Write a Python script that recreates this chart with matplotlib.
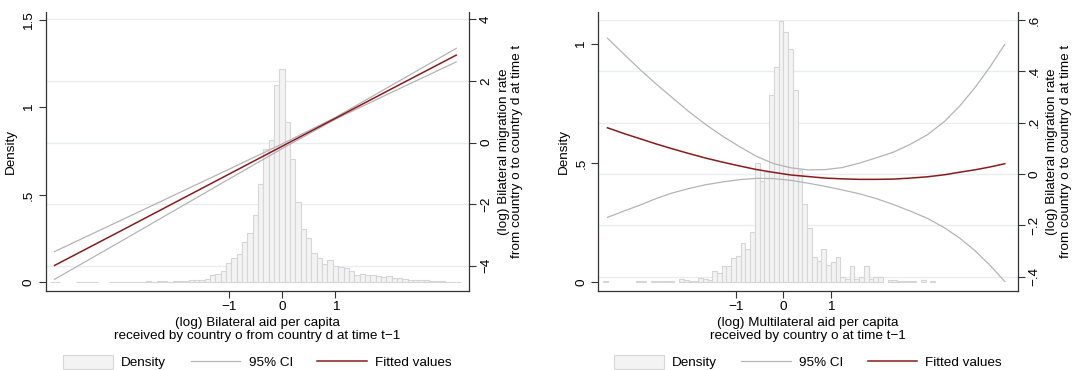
import numpy as np
import matplotlib
matplotlib.use("Agg")
import matplotlib.pyplot as plt
from matplotlib.lines import Line2D
from matplotlib.patches import Patch
from matplotlib.transforms import blended_transform_factory

plt.rcParams['font.family'] = ['Liberation Sans', 'DejaVu Sans']
plt.rcParams['font.size'] = 9.7

# ---- left panel: bilateral aid ----
bil_bin_start = -4.3
bil_bin_width = 0.1
bil_density = [
    0.004, 0.003, 0, 0, 0, 0.003, 0.003, 0.003, 0.003, 0, 0,
    0.003, 0.003, 0.004, 0.003, 0.004, 0.004, 0.004, 0.005, 0.004, 0.005,
    0.005, 0.004, 0.006, 0.006, 0.010, 0.011, 0.011, 0.012, 0.017, 0.044,
    0.050, 0.063, 0.110, 0.140, 0.163, 0.231, 0.281, 0.385, 0.560, 0.760,
    0.812, 1.128, 1.220, 0.917, 0.708, 0.457, 0.302, 0.255, 0.170, 0.141,
    0.105, 0.130, 0.092, 0.090, 0.082, 0.066, 0.044, 0.047, 0.044, 0.040,
    0.036, 0.029, 0.034, 0.027, 0.027, 0.017, 0.015, 0.015, 0.011, 0.011,
    0.006, 0.005, 0.005, 0.004, 0.004, 0.004,
]
bil_x = [-4.26, -3.0, -2.0, -1.0, 0.0, 1.0, 2.0, 3.26]
bil_fit = [-3.99, -2.85, -1.94, -1.03, -0.12, 0.79, 1.70, 2.84]
bil_ci_hi = [-3.54, -2.51, -1.69, -0.87, -0.045, 0.82, 1.81, 3.06]
bil_ci_lo = [-4.44, -3.19, -2.19, -1.19, -0.195, 0.76, 1.59, 2.62]

# ---- right panel: multilateral aid ----
mul_bin_start = -3.75
mul_bin_width = 0.1
mul_density = [
    0.003, 0, 0, 0, 0, 0, 0, 0.003, 0.003, 0,
    0.003, 0.004, 0.004, 0.006, 0.004, 0, 0.013, 0.010, 0.003, 0.006,
    0.017, 0.011, 0.008, 0.048, 0.039, 0.067, 0.067, 0.102, 0.109, 0.163,
    0.138, 0.212, 0.500, 0.424, 0.463, 0.787, 0.903, 1.099, 1.053, 0.979,
    0.808, 0.471, 0.327, 0.226, 0.104, 0.090, 0.140, 0.072, 0.083, 0.105,
    0.022, 0.014, 0.066, 0.012, 0.020, 0.067, 0.012, 0.020, 0.020, 0,
    0.010, 0.008, 0.006, 0.006, 0.004, 0.004, 0, 0.008, 0, 0.004,
]
mul_x = [-3.71, -3.37, -3.035, -2.70, -2.36, -2.0, -1.64, -1.28, -0.92,
         -0.56, -0.2, 0.16, 0.52, 0.88, 1.24, 1.6, 1.96, 2.32, 2.68,
         3.04, 3.4, 3.72, 4.035, 4.35, 4.67]
mul_fit = [0.180, 0.158, 0.138, 0.118, 0.099, 0.080, 0.062, 0.046, 0.031,
           0.017, 0.006, -0.004, -0.010, -0.016, -0.019, -0.021, -0.021, -0.020, -0.016,
           -0.011, -0.003, 0.007, 0.016, 0.027, 0.040]
mul_ci_hi = [0.529, 0.468, 0.409, 0.353, 0.300, 0.244, 0.193, 0.147, 0.106,
             0.068, 0.040, 0.024, 0.016, 0.017, 0.025, 0.042, 0.063, 0.085, 0.116,
             0.153, 0.205, 0.265, 0.335, 0.415, 0.505]
mul_ci_lo = [-0.169, -0.145, -0.122, -0.097, -0.075, -0.057, -0.042, -0.031, -0.022,
             -0.017, -0.018, -0.025, -0.036, -0.048, -0.062, -0.077, -0.096, -0.119, -0.145,
             -0.173, -0.210, -0.250, -0.298, -0.354, -0.419]

right_title = "(log) Bilateral migration rate\nfrom country o to country d at time t"

BAR_FACE = '#f3f3f3'
BAR_EDGE = '#d6d6d6'
CI_COL = '#b4b4b4'
FIT_COL = '#8b1a1a'
GRID_COL = '#e6eef0'
AXIS_COL = '#333333'


def stata_fmt(v, pos=None):
    s = '%g' % round(v, 6)
    if s.startswith('0.'):
        s = s[1:]
    elif s.startswith('-0.'):
        s = '-' + s[2:]
    return s.replace('-', '\u2212')


def draw_panel(ax, bin_start, bin_width, density, lx, fit, hi, lo,
               xlim, ylim, y2lim, yticks, y2ticks, xlabel):
    centers = bin_start + bin_width * np.arange(len(density))
    dens = np.array(density)
    keep = dens > 0
    ax.bar(centers[keep], dens[keep], width=bin_width, color=BAR_FACE,
           edgecolor=BAR_EDGE, linewidth=0.8, zorder=2)
    ax.set_xlim(*xlim)
    ax.set_ylim(*ylim)

    ax2 = ax.twinx()
    ax2.set_ylim(*y2lim)
    ax2.plot(lx, hi, color=CI_COL, lw=0.9, zorder=3)
    ax2.plot(lx, lo, color=CI_COL, lw=0.9, zorder=3)
    ax2.plot(lx, fit, color=FIT_COL, lw=1.1, zorder=4)

    # grid follows the right-hand axis, drawn behind the bars
    tr = blended_transform_factory(ax.transAxes, ax2.transData)
    for v in y2ticks:
        ax.plot([0, 1], [v, v], transform=tr, color=GRID_COL, lw=1.0, zorder=1)

    ax.set_xticks([-1, 0, 1])
    ax.xaxis.set_major_formatter(plt.FuncFormatter(stata_fmt))
    ax.set_yticks(yticks)
    ax.yaxis.set_major_formatter(plt.FuncFormatter(stata_fmt))
    ax2.set_yticks(y2ticks)
    ax2.yaxis.set_major_formatter(plt.FuncFormatter(stata_fmt))

    ax.tick_params(axis='y', labelrotation=90, length=5, width=0.8,
                   color=AXIS_COL, pad=3)
    ax.tick_params(axis='x', length=5, width=0.8, color=AXIS_COL, pad=2)
    ax2.tick_params(axis='y', labelrotation=90, length=5, width=0.8,
                    color=AXIS_COL, pad=3)
    for lab in ax.get_yticklabels() + ax2.get_yticklabels():
        lab.set_va('center')

    for a in (ax, ax2):
        a.spines['top'].set_visible(False)
    ax2.spines['left'].set_visible(False)
    ax2.spines['bottom'].set_visible(False)
    ax.spines['right'].set_visible(False)
    for sp in ('left', 'bottom'):
        ax.spines[sp].set_color(AXIS_COL)
        ax.spines[sp].set_linewidth(0.9)
    ax2.spines['right'].set_color(AXIS_COL)
    ax2.spines['right'].set_linewidth(0.9)

    ax.set_ylabel('Density', labelpad=4)
    ax2.set_ylabel(right_title, rotation=90, labelpad=4, multialignment='center')
    ax.set_xlabel(xlabel, labelpad=3, linespacing=1.15)

    handles = [
        Patch(facecolor=BAR_FACE, edgecolor=BAR_EDGE, linewidth=0.8),
        Line2D([], [], color=CI_COL, lw=0.9),
        Line2D([], [], color=FIT_COL, lw=1.1),
    ]
    ax.legend(handles, ['Density', '95% CI', 'Fitted values'], ncol=3,
              loc='center', bbox_to_anchor=(0.5, -0.255), frameon=False,
              handlelength=3.7, handleheight=1.2, handletextpad=0.6,
              columnspacing=1.8)
    return ax2


def main():
    fig = plt.figure(figsize=(10.75, 3.7), dpi=100)
    ax_l = fig.add_axes([0.0428, 0.2135, 0.3935, 0.754])
    ax_r = fig.add_axes([0.5567, 0.2135, 0.3899, 0.754])

    draw_panel(ax_l, bil_bin_start, bil_bin_width, bil_density,
               bil_x, bil_fit, bil_ci_hi, bil_ci_lo,
               xlim=(-4.42, 3.50), ylim=(-0.05, 1.546), y2lim=(-4.82, 4.24),
               yticks=[0, 0.5, 1, 1.5], y2ticks=[-4, -2, 0, 2, 4],
               xlabel='(log) Bilateral aid per capita\n'
                      'received by country o from country d at time t\u22121')

    draw_panel(ax_r, mul_bin_start, mul_bin_width, mul_density,
               mul_x, mul_fit, mul_ci_hi, mul_ci_lo,
               xlim=(-3.90, 4.94), ylim=(-0.038, 1.136), y2lim=(-0.456, 0.631),
               yticks=[0, 0.5, 1], y2ticks=[-0.4, -0.2, 0, 0.2, 0.4, 0.6],
               xlabel='(log) Multilateral aid per capita\n'
                      'received by country o at time t\u22121')

    fig.savefig('out.png', dpi=100)


if __name__ == '__main__':
    main()
